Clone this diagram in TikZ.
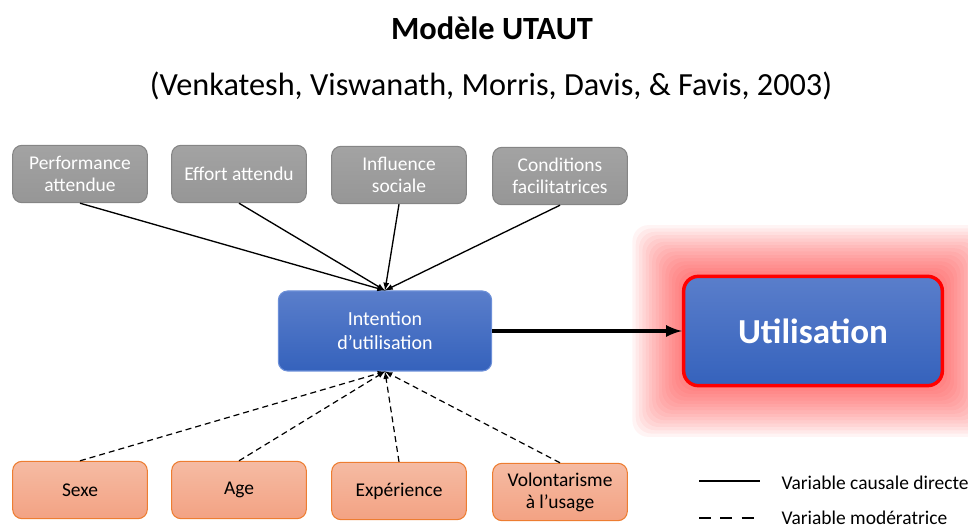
\documentclass[tikz,border=0pt]{standalone}
\usepackage{fontspec}
\setmainfont{Carlito}
\usetikzlibrary{arrows,backgrounds}

\definecolor{grisfond}{HTML}{A3A3A3}
\definecolor{grisbas}{HTML}{969696}
\definecolor{grisbord}{HTML}{858585}
\definecolor{bleuhaut}{HTML}{5A7ECB}
\definecolor{bleubas}{HTML}{3562BC}
\definecolor{bleubord}{HTML}{6C8FD8}
\definecolor{orhaut}{HTML}{F5BBA3}
\definecolor{orbas}{HTML}{F3A283}
\definecolor{orbord}{HTML}{ED7D31}

\begin{document}
\begin{tikzpicture}[x=0.75pt,y=-0.75pt,>=latex,
	facteur/.style={rounded corners=7pt, draw=grisbord, line width=0.8pt,
		top color=grisfond, bottom color=grisbas, text=white, align=center,
		minimum width=101pt, minimum height=43pt, inner sep=2pt,
		font=\fontsize{14.6}{16.5}\selectfont},
	moderateur/.style={facteur, draw=orbord, top color=orhaut, bottom color=orbas,
		text=black},
	intentionbox/.style={facteur, draw=bleubord, top color=bleuhaut, bottom color=bleubas,
		minimum width=160pt, minimum height=60pt, font=\fontsize{15}{18}\selectfont},
	usagebox/.style={rounded corners=11pt, draw=red, line width=2.6pt,
		top color=bleuhaut, bottom color=bleubas, text=white,
		minimum width=194pt, minimum height=82pt,
		font=\fontsize{26.3}{30}\selectfont\bfseries},
	legende/.style={anchor=west, inner sep=1pt, font=\fontsize{14.6}{16}\selectfont}]
	\useasboundingbox (0,0) rectangle (968,527);

	\node (titre) at (492,28) {\fontsize{24.3}{28}\selectfont\bfseries Modèle UTAUT};
	\node (source) at (491,86) {\fontsize{24.2}{28}\selectfont (Venkatesh, Viswanath, Morris, Davis, \& Favis, 2003)};

	\node[facteur] (perf) at (80,174) {Performance\\attendue};
	\node[facteur] (effort) at (239,174) {Effort attendu};
	\node[facteur] (influence) at (399,175) {Influence\\sociale};
	\node[facteur] (conditions) at (560,176) {Conditions\\facilitatrices};

	\node[intentionbox] (intention) at (385,331) {Intention\\d’utilisation};
	\node[usagebox] (usage) at (813,331) {Utilisation};

	\node[moderateur] (sexe) at (80,490) {Sexe};
	\node[moderateur] (age) at (239,490) {Age};
	\node[moderateur] (experience) at (399,491) {Expérience};
	\node[moderateur] (volontarisme) at (560,492) {Volontarisme\\à l’usage};

	% halo rouge
	\begin{scope}[on background layer]
		\foreach \g in {1,...,15}
			\fill[red, opacity=0.045, rounded corners=12pt]
				([shift={(-\g*3.3,-\g*3.3)}]usage.north west) rectangle
				([shift={(\g*3.3,\g*3.3)}]usage.south east);
	\end{scope}

	\draw [->,line width=1pt](perf.south) -- (intention.north);
	\draw [->,line width=1pt](effort.south) -- (intention.north);
	\draw [->,line width=1pt](influence.south) -- (intention.north);
	\draw [->,line width=1pt](conditions.south) -- (intention.north);

	\draw [->,line width=0.9pt,dash pattern=on 4.5pt off 3pt](sexe.north) -- (intention.south);
	\draw [->,line width=0.9pt,dash pattern=on 4.5pt off 3pt](age.north) -- (intention.south);
	\draw [->,line width=0.9pt,dash pattern=on 4.5pt off 3pt](experience.north) -- (intention.south);
	\draw [->,line width=0.9pt,dash pattern=on 4.5pt off 3pt](volontarisme.north) -- (intention.south);

	\draw [->,line width=3pt](intention) -- (usage);

	% legende
	\coordinate (causeA) at (699,481);
	\coordinate (causeB) at (760,481);
	\coordinate (modA) at (699,518);
	\coordinate (modB) at (760,518);
	\draw [line width=1.8pt](causeA) -- (causeB);
	\draw [line width=1.8pt,dash pattern=on 9pt off 7pt](modA) -- (modB);
	\node[legende] (causetxt) at (780,483) {Variable causale directe};
	\node[legende] (modtxt) at (780,518) {Variable modératrice};
\end{tikzpicture}
\end{document}
